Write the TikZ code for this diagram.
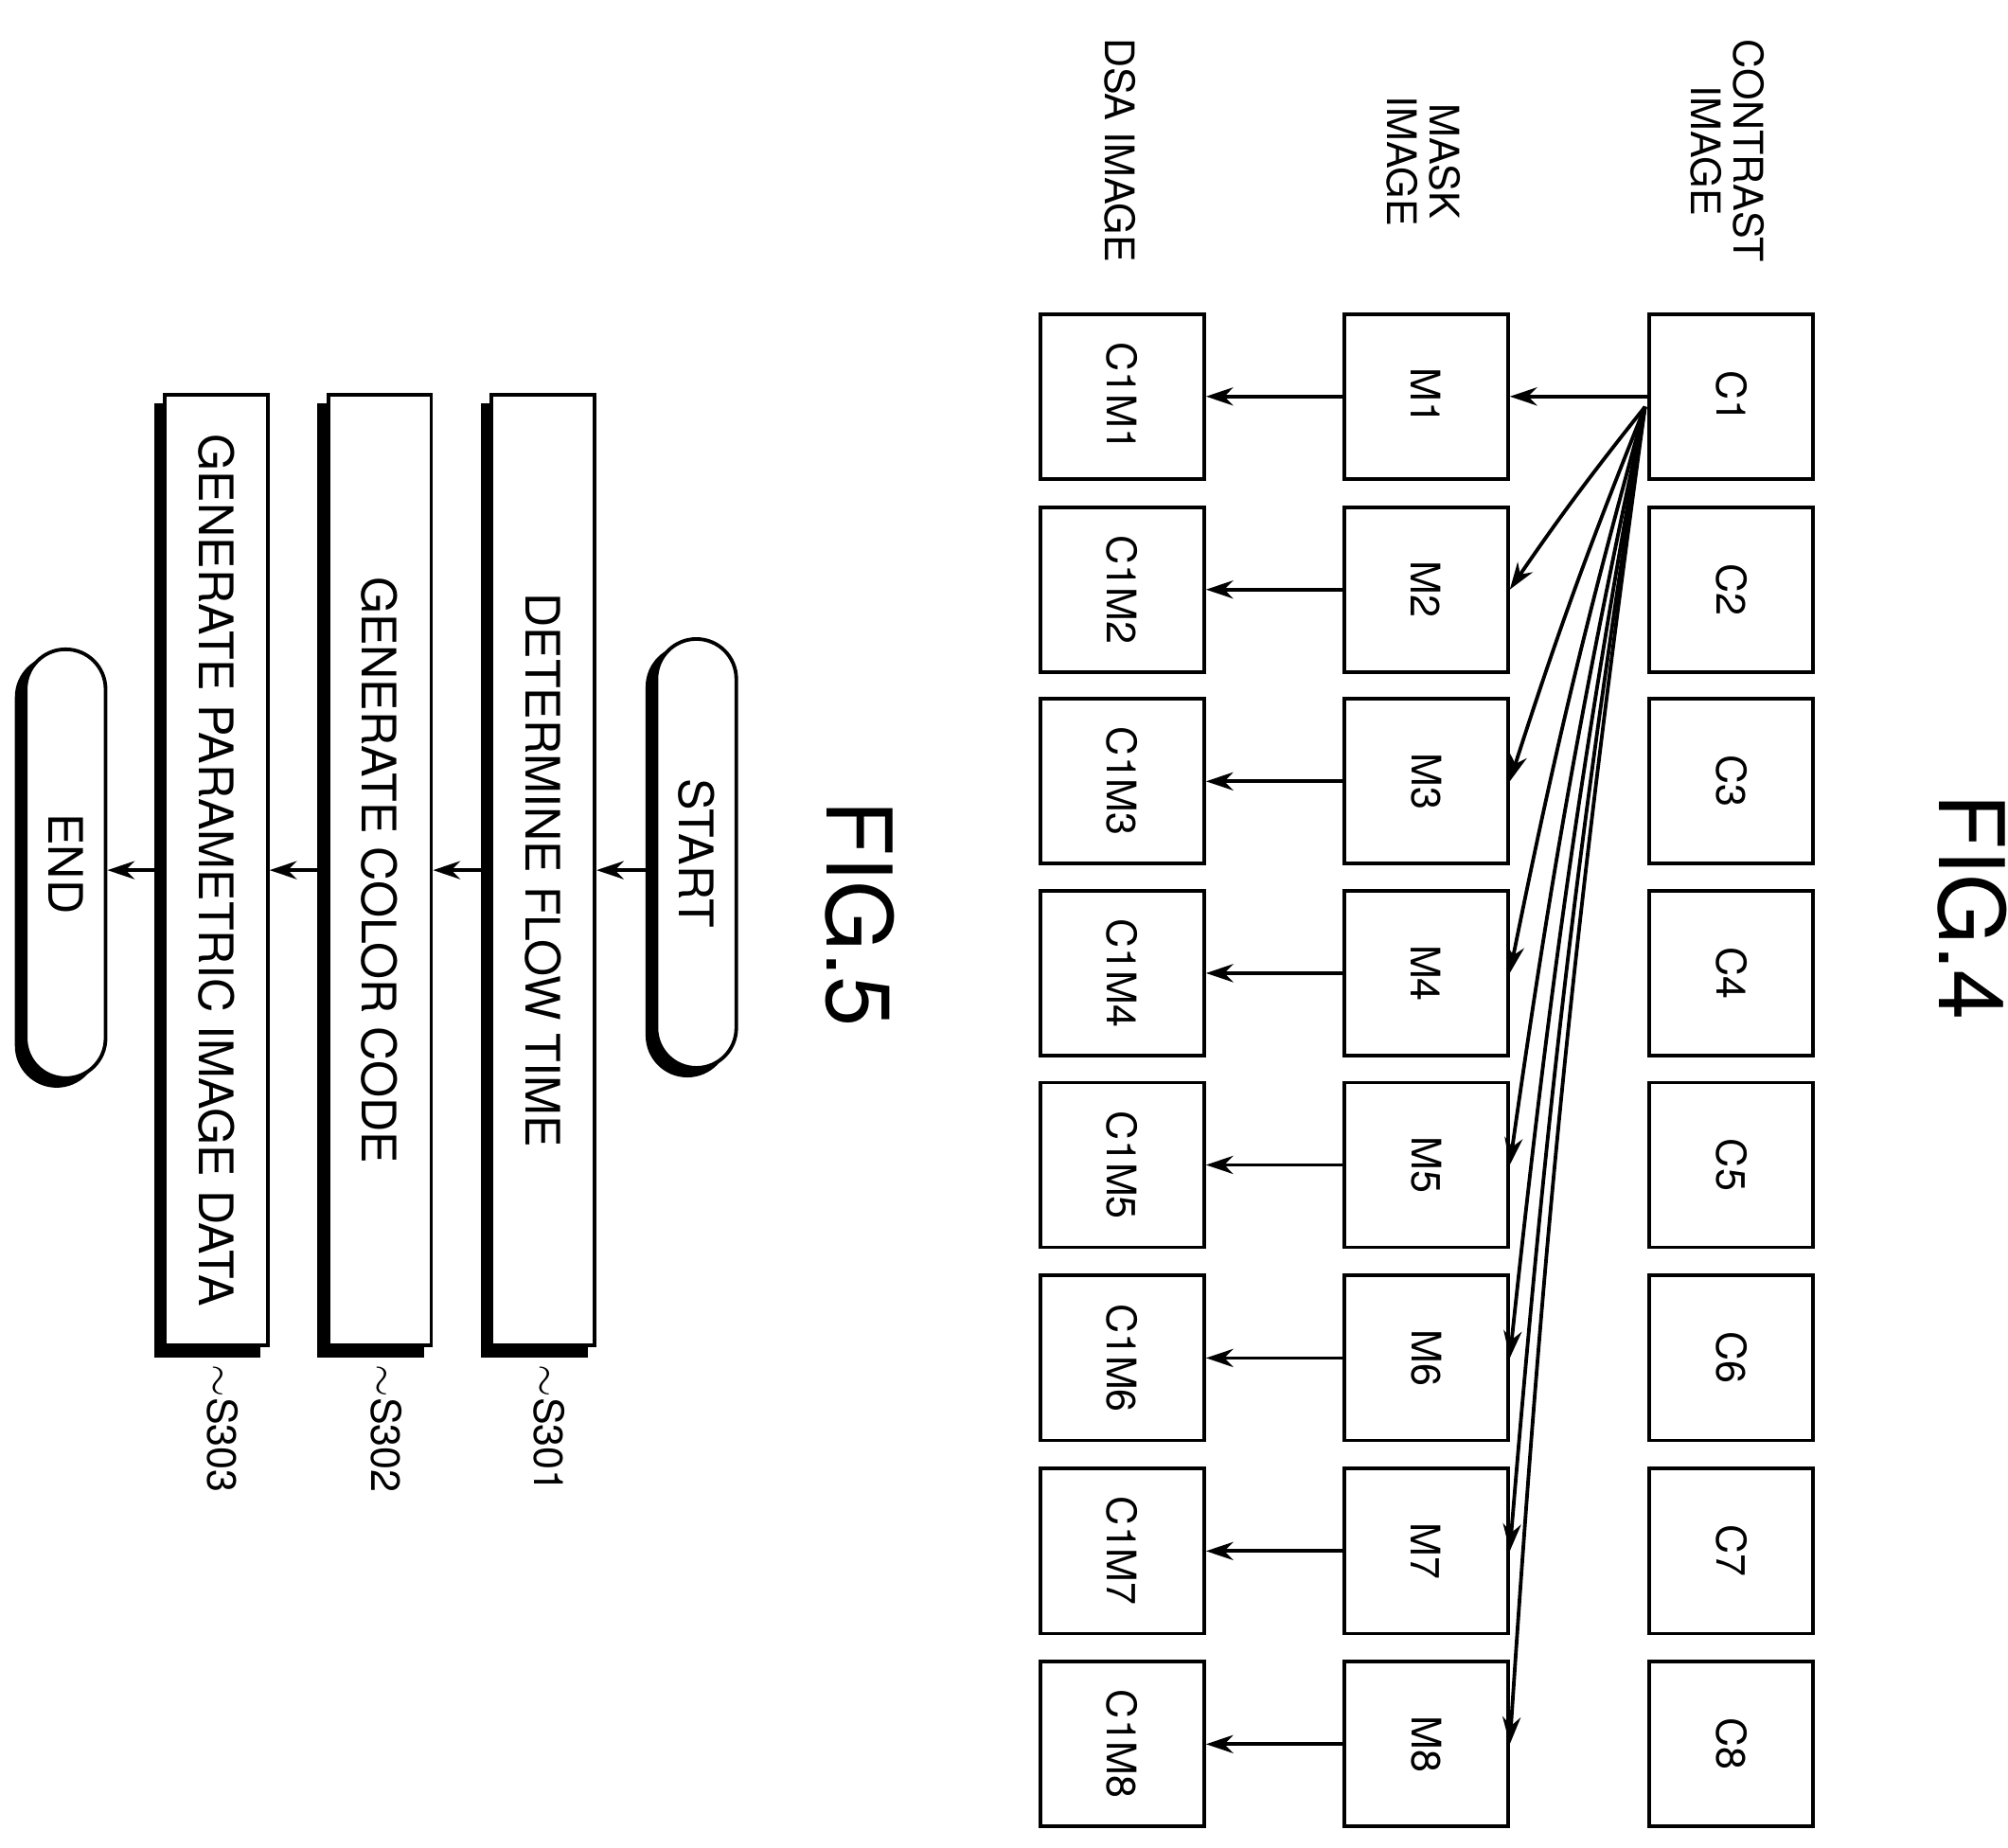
\documentclass[tikz,border=0pt]{standalone}
\usepackage{fontspec}
\setmainfont{TeX Gyre Heros}
\usetikzlibrary{arrows.meta,positioning}

\tikzset{
  img/.style={draw,thick,rotate=-90,minimum width=1.28cm,minimum height=1.27cm,font=\fontsize{9}{10}\selectfont},
  flowbox/.style={draw,thick,fill=white,rotate=-90,minimum width=7.38cm,minimum height=0.8cm,font=\fontsize{10.5}{12}\selectfont},
  flowshadow/.style={flowbox,fill=black},
  term/.style={draw,thick,fill=white,rotate=-90,rounded corners=0.31cm,minimum width=3.33cm,minimum height=0.62cm,font=\fontsize{10.5}{12}\selectfont},
  termshadow/.style={term,fill=black},
  head/.style={rotate=-90,anchor=east,align=center,font=\fontsize{9}{9.5}\selectfont},
  arr/.style={-{Stealth[length=6pt,width=4pt]},thick}
}

\begin{document}
\begin{tikzpicture}[x=0.01cm,y=-0.01cm]
\useasboundingbox (0,0) rectangle (1560,1435);

% FIG.4
\node[rotate=-90,font=\fontsize{20}{22}\selectfont] (fig4) at (1532,705) {FIG.4};
\node[head] (hc) at (1342,216) {CONTRAST\\IMAGE};
\node[head] (hm) at (1106,188) {MASK\\IMAGE};
\node[head] (hd) at (870,216) {DSA IMAGE};

\foreach \i/\y in {1/308,2/458,3/607,4/756,5/905,6/1055,7/1205,8/1355}{
  \node[img] (c\i) at (1345,\y) {C\i};
  \node[img] (m\i) at (1108,\y) {M\i};
  \node[img] (d\i) at (872,\y) {C1M\i};
  \draw[arr] (m\i.south) -- (d\i.north);
}
\coordinate (src) at (1278,316);
\draw[arr] (c1.south) -- (m1.north);
\foreach \i in {2,...,8}
  \draw[arr] (src) to[bend right=2] (m\i.north);

% FIG.5
\node[rotate=-90,font=\fontsize{20}{22}\selectfont] (fig5) at (668,710) {FIG.5};

\node[termshadow] at (534,669) {};
\node[term] (start) at (541,663) {START};
\node[flowshadow] at (415,684) {};
\node[flowbox] (s1) at (422,676) {DETERMINE FLOW TIME};
\node[flowshadow] at (288,684) {};
\node[flowbox] (s2) at (295,676) {GENERATE COLOR CODE};
\node[flowshadow] at (161,684) {};
\node[flowbox] (s3) at (168,676) {GENERATE PARAMETRIC IMAGE DATA};
\node[termshadow] at (44,677) {};
\node[term] (end) at (51,671) {END};

\draw[arr] (s1.north -| start.south) -- (s1.north);
\draw[arr] (s1.south) -- (s2.north);
\draw[arr] (s2.south) -- (s3.north);
\draw[arr] (s3.south) -- (s3.south -| end.north);

\node[rotate=-90,anchor=west,font=\fontsize{9}{10}\selectfont] (l1) at (427,1048) {$\sim$S301};
\node[rotate=-90,anchor=west,font=\fontsize{9}{10}\selectfont] (l2) at (300,1048) {$\sim$S302};
\node[rotate=-90,anchor=west,font=\fontsize{9}{10}\selectfont] (l3) at (173,1048) {$\sim$S303};
\end{tikzpicture}
\end{document}
